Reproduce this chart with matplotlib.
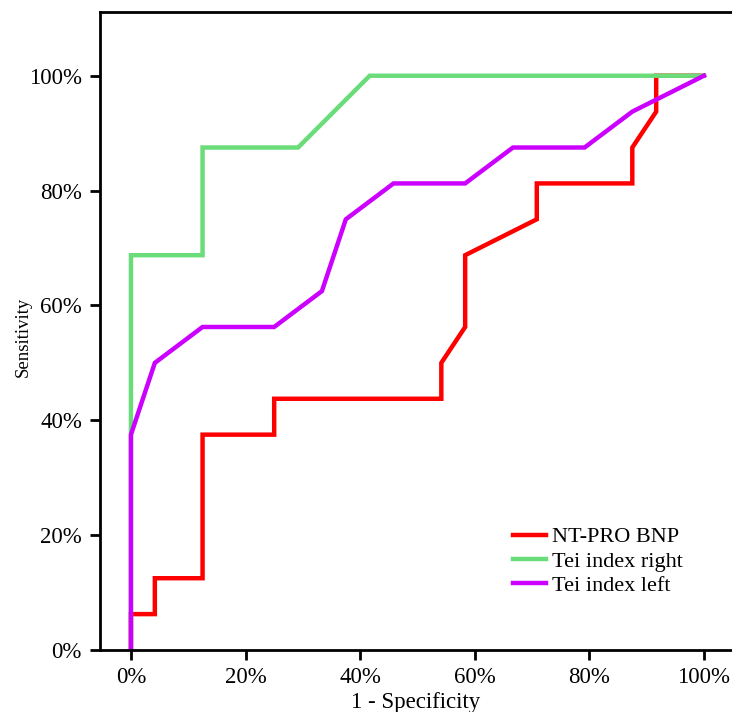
import matplotlib
matplotlib.use("Agg")
import matplotlib.pyplot as plt
from matplotlib.ticker import FuncFormatter

plt.rcParams['font.family'] = ['Liberation Serif', 'DejaVu Serif']

# ROC curve data (1 - specificity, sensitivity), in percent
bnp_x = [0, 0, 4.17, 4.17, 12.5, 12.5, 25, 25, 54.17, 54.17, 58.33, 58.33, 70.83, 70.83, 87.5, 87.5, 91.67, 91.67, 100]
bnp_y = [0, 6.25, 6.25, 12.5, 12.5, 37.5, 37.5, 43.75, 43.75, 50, 56.25, 68.75, 75, 81.25, 81.25, 87.5, 93.75, 100, 100]

right_x = [0, 0, 12.5, 12.5, 29.17, 41.67, 100]
right_y = [0, 68.75, 68.75, 87.5, 87.5, 100, 100]

left_x = [0, 0, 4.17, 12.5, 25, 33.33, 37.5, 45.83, 58.33, 66.67, 79.17, 87.5, 100]
left_y = [0, 37.5, 50, 56.25, 56.25, 62.5, 75, 81.25, 81.25, 87.5, 87.5, 93.75, 100]

labels = ["NT-PRO BNP", "Tei index right", "Tei index left"]
colors = ["#FF0000", "#6ADC7A", "#CC00FF"]
ticks = [0, 20, 40, 60, 80, 100]

fig = plt.figure(figsize=(7.32, 7.12), dpi=100)
ax = fig.add_axes([100/732, 62/712, 1 - 100/732, (650-12)/712])

ax.plot(bnp_x, bnp_y, color=colors[0], lw=3.2, label=labels[0], solid_joinstyle='miter')
ax.plot(right_x, right_y, color=colors[1], lw=3.2, label=labels[1], solid_joinstyle='miter')
ax.plot(left_x, left_y, color=colors[2], lw=3.2, label=labels[2], solid_joinstyle='miter')

ax.set_xlim(-5.4, 104.9)
ax.set_ylim(0, 111.1)
ax.set_xticks(ticks)
ax.set_yticks(ticks)
fmt = FuncFormatter(lambda v, p: f"{int(v)}%")
ax.xaxis.set_major_formatter(fmt)
ax.yaxis.set_major_formatter(fmt)

for s in ['left', 'bottom', 'top']:
    ax.spines[s].set_linewidth(2)
    ax.spines[s].set_color('black')
ax.spines['right'].set_visible(False)
ax.tick_params(axis='both', direction='out', length=7, width=2, labelsize=16.5)
ax.tick_params(axis='y', pad=6)
ax.tick_params(axis='x', pad=5)

ax.set_xlabel("1 - Specificity", fontsize=16.5, labelpad=3)
ax.set_ylabel("Sensitivity", fontsize=13.5)
ax.yaxis.set_label_coords((32 - 100) / 632, (650 - 337) / 638)

leg = ax.legend(loc='upper left', bbox_to_anchor=((504-100)/632, (650-518)/638),
                frameon=False, fontsize=16, handlelength=1.5, handletextpad=0.25,
                labelspacing=0.16, borderaxespad=0)

fig.savefig("out.png", dpi=100)
